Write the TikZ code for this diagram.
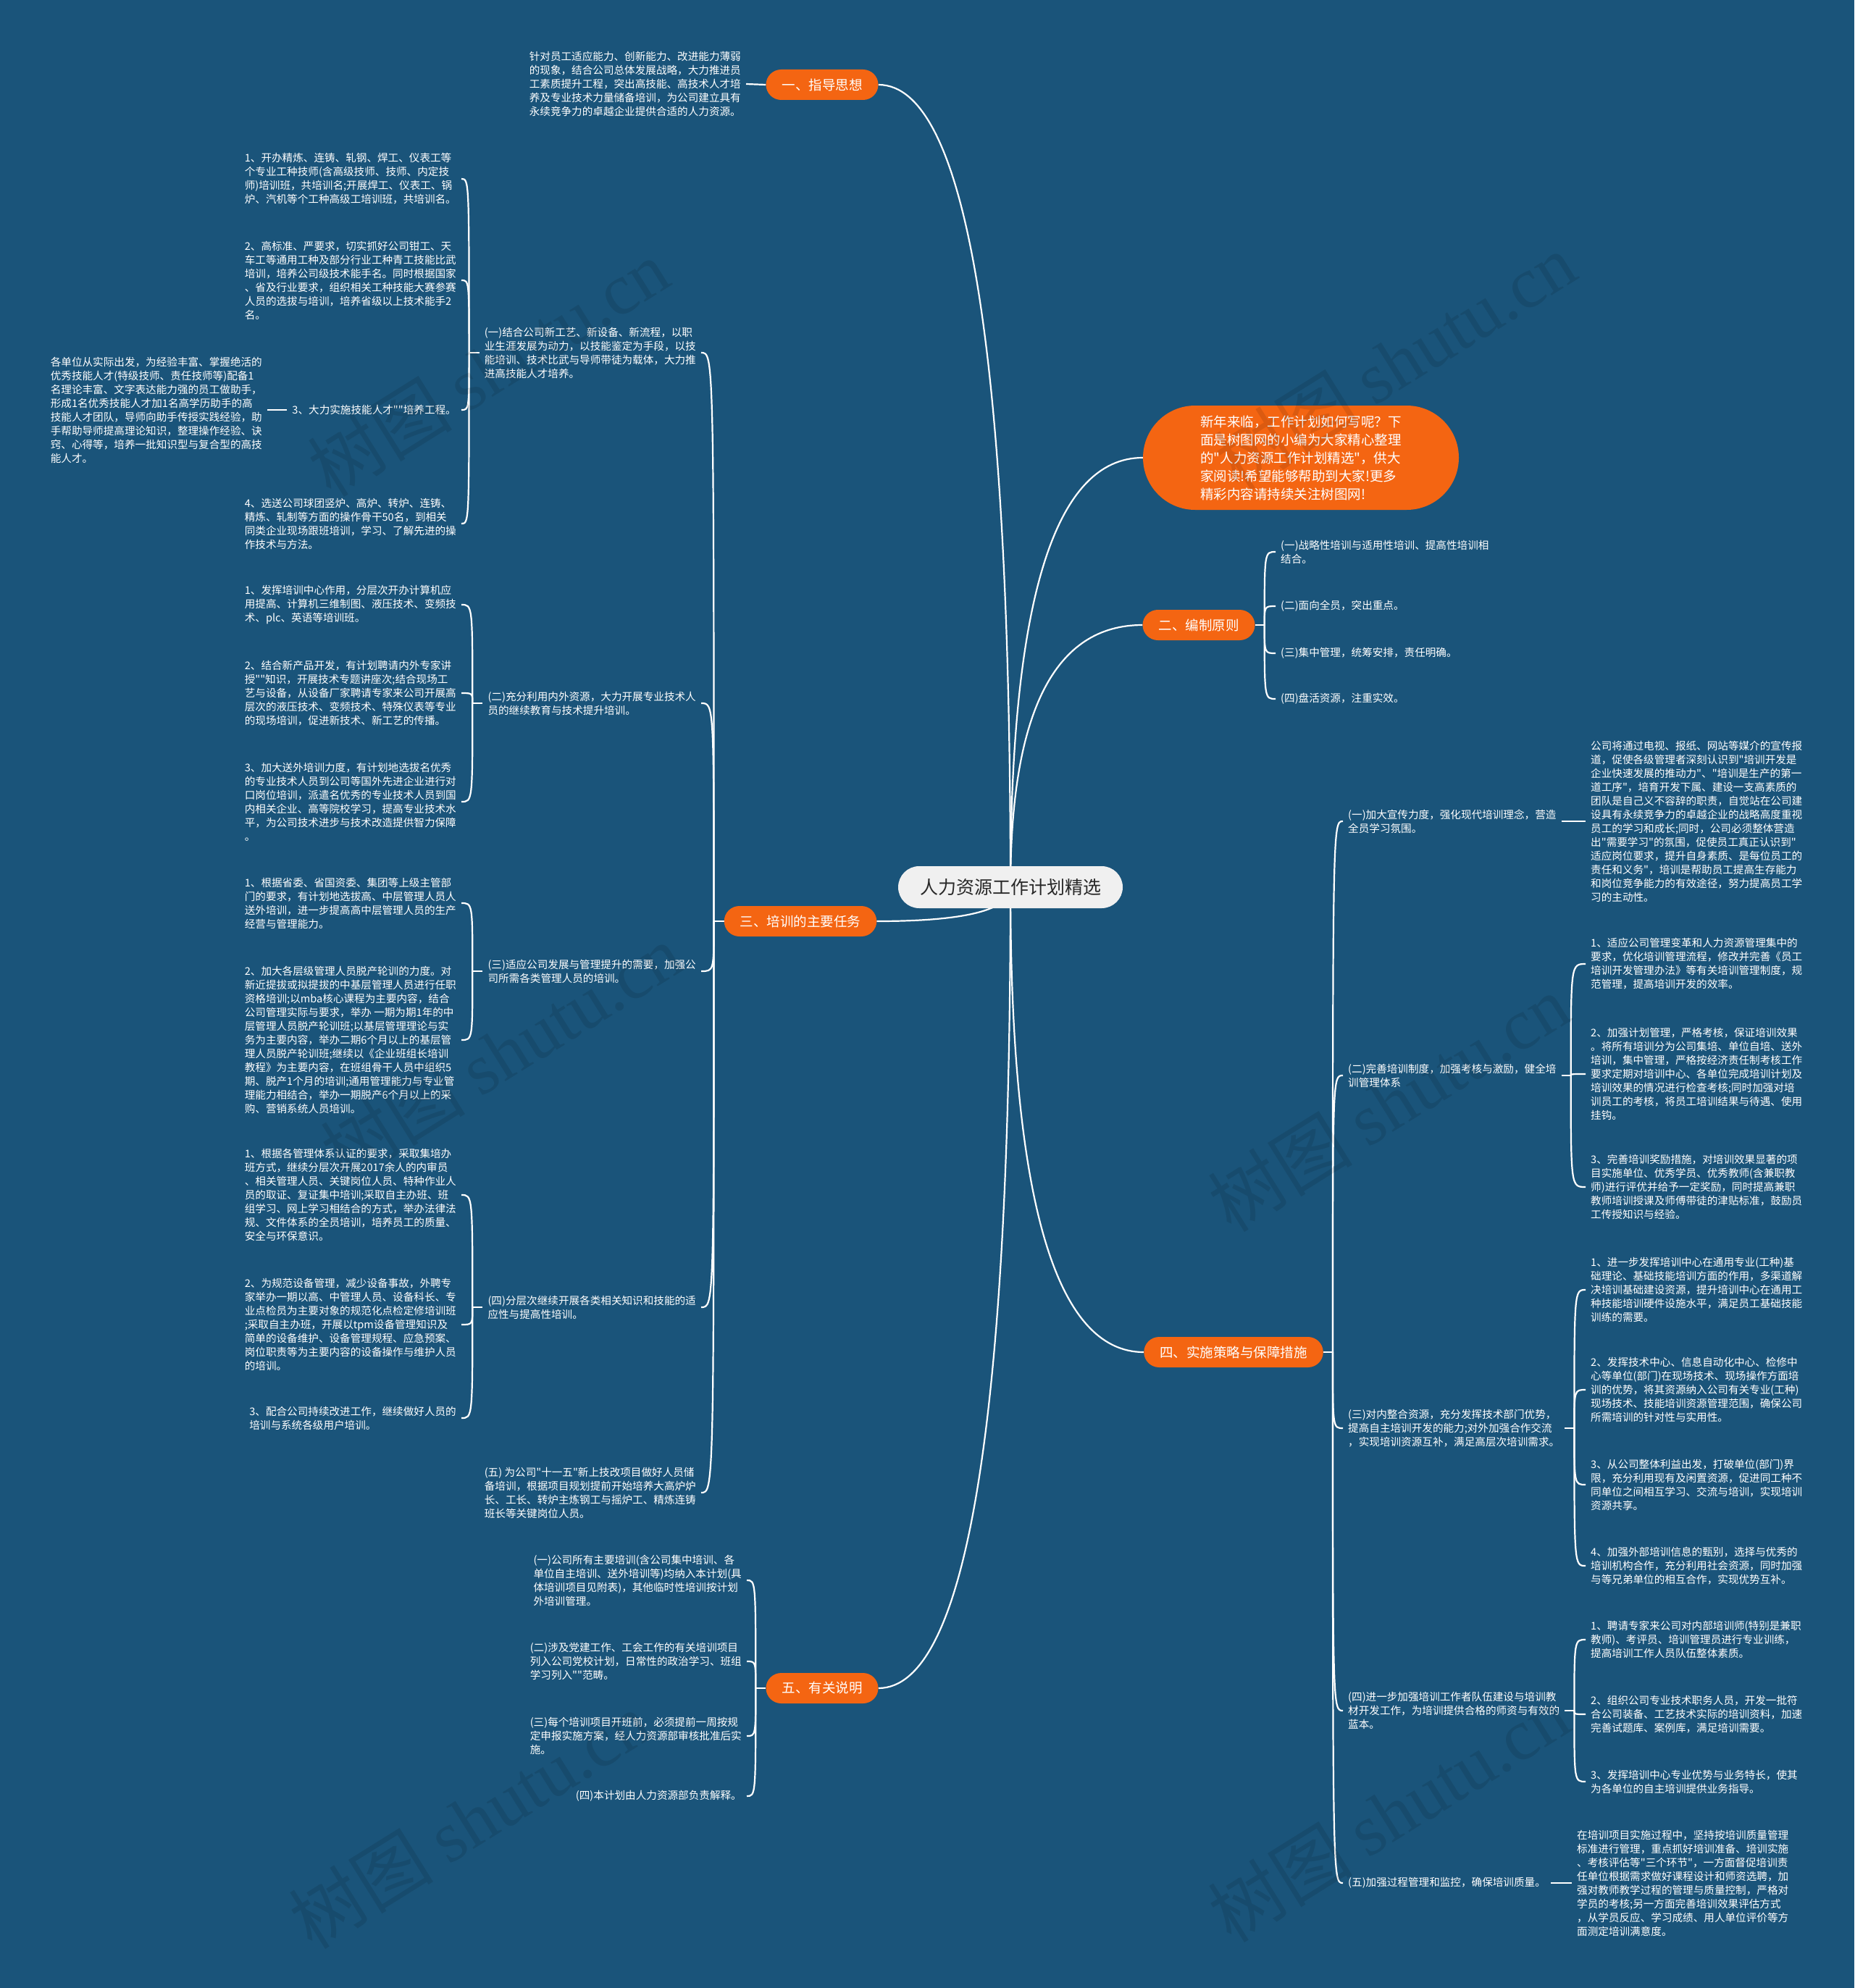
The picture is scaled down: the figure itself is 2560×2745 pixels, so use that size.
\documentclass[tikz,border=0pt]{standalone}
\usepackage{fontspec}
\setmainfont{Noto Sans CJK SC}[Ligatures=TeXOff]
\newfontfamily\wmserif{Liberation Serif}
\usetikzlibrary{calc}
\pgfdeclarelayer{bg}
\pgfdeclarelayer{lines}
\pgfsetlayers{bg,lines,main}
\definecolor{bgblue}{RGB}{26,84,122}
\definecolor{orng}{RGB}{244,101,18}
\definecolor{rootgray}{RGB}{240,240,240}
\definecolor{roottext}{RGB}{40,40,40}
\tikzset{
  txt/.style={text=white, font=\fontsize{14.6}{19}\selectfont, align=left, inner xsep=7, inner ysep=4},
  lnode/.style={txt, anchor=east},
  rnode/.style={txt, anchor=west},
  branch/.style={fill=orng, text=white, font=\fontsize{18.5}{22}\selectfont, rounded corners=21, minimum height=42, inner xsep=22},
  introbox/.style={fill=orng, text=white, font=\fontsize{18.5}{25}\selectfont, align=left, rounded corners=72, minimum width=436, minimum height=144},
  rootbox/.style={fill=rootgray, text=roottext, font=\fontsize{25}{30}\selectfont, rounded corners=29, minimum width=310, minimum height=58},
  conn/.style={draw=white, line width=2.2},
  wm/.style={text=black, opacity=0.10, rotate=32, font=\fontsize{100}{100}\selectfont}
}
\newcommand\lbrk[2]{%
  \coordinate (J) at ($(#1.west)+(-14,0)$);
  \draw[conn] (#1.west) -- (J);
  \foreach \c in {#2} {\draw[conn] (J) .. controls (J |- \c.east) .. (\c.east);}
}
\newcommand\rbrk[2]{%
  \coordinate (J) at ($(#1.east)+(13,0)$);
  \draw[conn] (#1.east) -- (J);
  \foreach \c in {#2} {\draw[conn] (J) .. controls (J |- \c.west) .. (\c.west);}
}
\begin{document}
\begin{tikzpicture}[x=1pt,y=-1pt]
\begin{pgfonlayer}{bg}
\fill[bgblue] (0,0) rectangle (2560,2745);
\end{pgfonlayer}
\useasboundingbox (0,0) rectangle (2560,2745);

% root and branches
\node[rootbox] (R) at (1395,1225) {人力资源工作计划精选};
\node[branch] (b1) at (1135,117) {一、指导思想};
\node[introbox] (bi) at (1796,632) {新年来临，工作计划如何写呢？下\\面是树图网的小编为大家精心整理\\的"人力资源工作计划精选"，供大\\家阅读!希望能够帮助到大家!更多\\精彩内容请持续关注树图网!};
\node[branch] (b2) at (1655,863) {二、编制原则};
\node[branch] (b3) at (1105,1272) {三、培训的主要任务};
\node[branch] (b4) at (1703,1867) {四、实施策略与保障措施};
\node[branch] (b5) at (1135,2331) {五、有关说明};

% branch 1
\node[lnode] (g1) at (1030,116) {针对员工适应能力、创新能力、改进能力薄弱\\的现象，结合公司总体发展战略，大力推进员\\工素质提升工程，突出高技能、高技术人才培\\养及专业技术力量储备培训，为公司建立具有\\永续竞争力的卓越企业提供合适的人力资源。};

% branch 2
\node[rnode] (p1) at (1761,762) {(一)战略性培训与适用性培训、提高性培训相\\结合。};
\node[rnode] (p2) at (1761,837) {(二)面向全员，突出重点。};
\node[rnode] (p3) at (1761,902) {(三)集中管理，统筹安排，责任明确。};
\node[rnode] (p4) at (1761,965) {(四)盘活资源，注重实效。};

% branch 3
\node[lnode] (t1) at (968,487) {(一)结合公司新工艺、新设备、新流程，以职\\业生涯发展为动力，以技能鉴定为手段，以技\\能培训、技术比武与导师带徒为载体，大力推\\进高技能人才培养。};
\node[lnode] (t2) at (968,971) {(二)充分利用内外资源，大力开展专业技术人\\员的继续教育与技术提升培训。};
\node[lnode] (t3) at (968,1341) {(三)适应公司发展与管理提升的需要，加强公\\司所需各类管理人员的培训。};
\node[lnode] (t4) at (968,1805) {(四)分层次继续开展各类相关知识和技能的适\\应性与提高性培训。};
\node[lnode] (t5) at (968,2061) {(五) 为公司"十一五"新上技改项目做好人员储\\备培训，根据项目规划提前开始培养大高炉炉\\长、工长、转炉主炼钢工与摇炉工、精炼连铸\\班长等关键岗位人员。};

\node[lnode] (t11) at (637,247) {1、开办精炼、连铸、轧钢、焊工、仪表工等\\个专业工种技师(含高级技师、技师、内定技\\师)培训班，共培训名;开展焊工、仪表工、锅\\炉、汽机等个工种高级工培训班，共培训名。};
\node[lnode] (t12) at (637,387) {2、高标准、严要求，切实抓好公司钳工、天\\车工等通用工种及部分行业工种青工技能比武\\培训，培养公司级技术能手名。同时根据国家\\、省及行业要求，组织相关工种技能大赛参赛\\人员的选拔与培训，培养省级以上技术能手2\\名。};
\node[lnode] (t13) at (637,566) {3、大力实施技能人才""培养工程。};
\node[lnode] (t131) at (369,566) {各单位从实际出发，为经验丰富、掌握绝活的\\优秀技能人才(特级技师、责任技师等)配备1\\名理论丰富、文字表达能力强的员工做助手，\\形成1名优秀技能人才加1名高学历助手的高\\技能人才团队，导师向助手传授实践经验，助\\手帮助导师提高理论知识，整理操作经验、诀\\窍、心得等，培养一批知识型与复合型的高技\\能人才。};
\node[lnode] (t14) at (637,723) {4、选送公司球团竖炉、高炉、转炉、连铸、\\精炼、轧制等方面的操作骨干50名，到相关\\同类企业现场跟班培训，学习、了解先进的操\\作技术与方法。};

\node[lnode] (t21) at (637,835) {1、发挥培训中心作用，分层次开办计算机应\\用提高、计算机三维制图、液压技术、变频技\\术、plc、英语等培训班。};
\node[lnode] (t22) at (637,957) {2、结合新产品开发，有计划聘请内外专家讲\\授""知识，开展技术专题讲座次;结合现场工\\艺与设备，从设备厂家聘请专家来公司开展高\\层次的液压技术、变频技术、特殊仪表等专业\\的现场培训，促进新技术、新工艺的传播。};
\node[lnode] (t23) at (637,1107) {3、加大送外培训力度，有计划地选拔名优秀\\的专业技术人员到公司等国外先进企业进行对\\口岗位培训，派遣名优秀的专业技术人员到国\\内相关企业、高等院校学习，提高专业技术水\\平，为公司技术进步与技术改造提供智力保障\\。};

\node[lnode] (t31) at (637,1247) {1、根据省委、省国资委、集团等上级主管部\\门的要求，有计划地选拔高、中层管理人员人\\送外培训，进一步提高高中层管理人员的生产\\经营与管理能力。};
\node[lnode] (t32) at (637,1436) {2、加大各层级管理人员脱产轮训的力度。对\\新近提拔或拟提拔的中基层管理人员进行任职\\资格培训;以mba核心课程为主要内容，结合\\公司管理实际与要求，举办 一期为期1年的中\\层管理人员脱产轮训班;以基层管理理论与实\\务为主要内容，举办二期6个月以上的基层管\\理人员脱产轮训班;继续以《企业班组长培训\\教程》为主要内容，在班组骨干人员中组织5\\期、脱产1个月的培训;通用管理能力与专业管\\理能力相结合，举办一期脱产6个月以上的采\\购、营销系统人员培训。};

\node[lnode] (t41) at (637,1650) {1、根据各管理体系认证的要求，采取集培办\\班方式，继续分层次开展2017余人的内审员\\、相关管理人员、关键岗位人员、特种作业人\\员的取证、复证集中培训;采取自主办班、班\\组学习、网上学习相结合的方式，举办法律法\\规、文件体系的全员培训，培养员工的质量、\\安全与环保意识。};
\node[lnode] (t42) at (637,1829) {2、为规范设备管理，减少设备事故，外聘专\\家举办一期以高、中管理人员、设备科长、专\\业点检员为主要对象的规范化点检定修培训班\\;采取自主办班，开展以tpm设备管理知识及\\简单的设备维护、设备管理规程、应急预案、\\岗位职责等为主要内容的设备操作与维护人员\\的培训。};
\node[lnode] (t43) at (637,1958) {3、配合公司持续改进工作，继续做好人员的\\培训与系统各级用户培训。};

% branch 4
\node[rnode] (f1) at (1854,1134) {(一)加大宣传力度，强化现代培训理念，营造\\全员学习氛围。};
\node[rnode] (f2) at (1854,1485) {(二)完善培训制度，加强考核与激励，健全培\\训管理体系};
\node[rnode] (f3) at (1854,1972) {(三)对内整合资源，充分发挥技术部门优势，\\提高自主培训开发的能力;对外加强合作交流\\，实现培训资源互补，满足高层次培训需求。};
\node[rnode] (f4) at (1854,2362) {(四)进一步加强培训工作者队伍建设与培训教\\材开发工作，为培训提供合格的师资与有效的\\蓝本。};
\node[rnode] (f5) at (1854,2600) {(五)加强过程管理和监控，确保培训质量。};

\node[rnode] (f11) at (2189,1134) {公司将通过电视、报纸、网站等媒介的宣传报\\道，促使各级管理者深刻认识到"培训开发是\\企业快速发展的推动力"、"培训是生产的第一\\道工序"，培育开发下属、建设一支高素质的\\团队是自己义不容辞的职责，自觉站在公司建\\设具有永续竞争力的卓越企业的战略高度重视\\员工的学习和成长;同时，公司必须整体营造\\出"需要学习"的氛围，促使员工真正认识到"\\适应岗位要求，提升自身素质、是每位员工的\\责任和义务"，培训是帮助员工提高生存能力\\和岗位竞争能力的有效途径，努力提高员工学\\习的主动性。};

\node[rnode] (f21) at (2189,1331) {1、适应公司管理变革和人力资源管理集中的\\要求，优化培训管理流程，修改并完善《员工\\培训开发管理办法》等有关培训管理制度，规\\范管理，提高培训开发的效率。};
\node[rnode] (f22) at (2189,1483) {2、加强计划管理，严格考核，保证培训效果\\。将所有培训分为公司集培、单位自培、送外\\培训，集中管理，严格按经济责任制考核工作\\要求定期对培训中心、各单位完成培训计划及\\培训效果的情况进行检查考核;同时加强对培\\训员工的考核，将员工培训结果与待遇、使用\\挂钩。};
\node[rnode] (f23) at (2189,1639) {3、完善培训奖励措施，对培训效果显著的项\\目实施单位、优秀学员、优秀教师(含兼职教\\师)进行评优并给予一定奖励，同时提高兼职\\教师培训授课及师傅带徒的津贴标准，鼓励员\\工传授知识与经验。};

\node[rnode] (f31) at (2189,1781) {1、进一步发挥培训中心在通用专业(工种)基\\础理论、基础技能培训方面的作用，多渠道解\\决培训基础建设资源，提升培训中心在通用工\\种技能培训硬件设施水平，满足员工基础技能\\训练的需要。};
\node[rnode] (f32) at (2189,1919) {2、发挥技术中心、信息自动化中心、检修中\\心等单位(部门)在现场技术、现场操作方面培\\训的优势，将其资源纳入公司有关专业(工种)\\现场技术、技能培训资源管理范围，确保公司\\所需培训的针对性与实用性。};
\node[rnode] (f33) at (2189,2050) {3、从公司整体利益出发，打破单位(部门)界\\限，充分利用现有及闲置资源，促进同工种不\\同单位之间相互学习、交流与培训，实现培训\\资源共享。};
\node[rnode] (f34) at (2189,2162) {4、加强外部培训信息的甄别，选择与优秀的\\培训机构合作，充分利用社会资源，同时加强\\与等兄弟单位的相互合作，实现优势互补。};

\node[rnode] (f41) at (2189,2264) {1、聘请专家来公司对内部培训师(特别是兼职\\教师)、考评员、培训管理员进行专业训练，\\提高培训工作人员队伍整体素质。};
\node[rnode] (f42) at (2189,2367) {2、组织公司专业技术职务人员，开发一批符\\合公司装备、工艺技术实际的培训资料，加速\\完善试题库、案例库，满足培训需要。};
\node[rnode] (f43) at (2189,2460) {3、发挥培训中心专业优势与业务特长，使其\\为各单位的自主培训提供业务指导。};

\node[rnode] (f51) at (2170,2600) {在培训项目实施过程中，坚持按培训质量管理\\标准进行管理，重点抓好培训准备、培训实施\\、考核评估等"三个环节"，一方面督促培训责\\任单位根据需求做好课程设计和师资选聘，加\\强对教师教学过程的管理与质量控制，严格对\\学员的考核;另一方面完善培训效果评估方式\\，从学员反应、学习成绩、用人单位评价等方\\面测定培训满意度。};

% branch 5
\node[lnode] (e1) at (1031,2182) {(一)公司所有主要培训(含公司集中培训、各\\单位自主培训、送外培训等)均纳入本计划(具\\体培训项目见附表)，其他临时性培训按计划\\外培训管理。};
\node[lnode] (e2) at (1031,2294) {(二)涉及党建工作、工会工作的有关培训项目\\列入公司党校计划，日常性的政治学习、班组\\学习列入""范畴。};
\node[lnode] (e3) at (1031,2397) {(三)每个培训项目开班前，必须提前一周按规\\定申报实施方案，经人力资源部审核批准后实\\施。};
\node[lnode] (e4) at (1031,2480) {(四)本计划由人力资源部负责解释。};

% connectors
\begin{pgfonlayer}{lines}
\foreach \t in {b1.east, bi.west, b2.west, b3.east, b4.west, b5.east} {
  \draw[conn] (R.center) .. controls ($(R.center)!0.667!(R.center |- \t)$) and ($(\t)!0.667!(R.center |- \t)$) .. (\t);
}
\draw[conn] (g1.east) -- (b1.west);
\rbrk{b2}{p1,p2,p3,p4}
\lbrk{b3}{t1,t2,t3,t4,t5}
\lbrk{t1}{t11,t12,t13,t14}
\draw[conn] (t13.west) -- (t131.east);
\lbrk{t2}{t21,t22,t23}
\lbrk{t3}{t31,t32}
\lbrk{t4}{t41,t42,t43}
\rbrk{b4}{f1,f2,f3,f4,f5}
\draw[conn] (f1.east) -- (f11.west);
\rbrk{f2}{f21,f22,f23}
\rbrk{f3}{f31,f32,f33,f34}
\rbrk{f4}{f41,f42,f43}
\draw[conn] (f5.east) -- (f51.west);
\lbrk{b5}{e1,e2,e3,e4}
\end{pgfonlayer}

% watermarks
\node[wm] (w1) at (674,508) {树图 {\wmserif shutu.cn}};
\node[wm] (w2) at (1926,499) {树图 {\wmserif shutu.cn}};
\node[wm] (w3) at (692,1453) {树图 {\wmserif shutu.cn}};
\node[wm] (w4) at (1917,1523) {树图 {\wmserif shutu.cn}};
\node[wm] (w5) at (648,2513) {树图 {\wmserif shutu.cn}};
\node[wm] (w6) at (1917,2504) {树图 {\wmserif shutu.cn}};
\end{tikzpicture}
\end{document}
